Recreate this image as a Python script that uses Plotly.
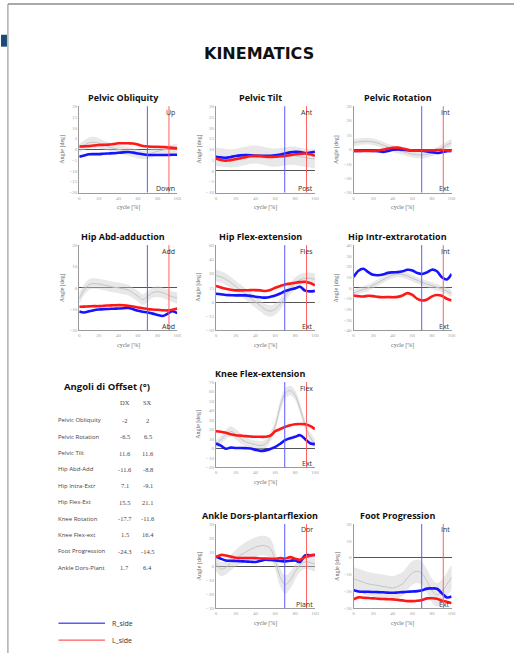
import plotly.graph_objects as go

W, H = 518, 656

# gait cycle sampling (% of stride)
CYCLE = list(range(0, 101, 5))

# event markers (% of cycle): toe-off right / left
TOE_OFF_R = 69.5
TOE_OFF_L = 91.5

# ---- Pelvic Obliquity ----
PO_R = [-3.4, -2.8, -2.3, -2.2, -2.2, -2.0, -1.9, -1.8, -1.6, -1.4, -1.25, -1.5, -1.9, -2.3, -2.6, -2.6, -2.6, -2.6, -2.6, -2.5, -2.5]
PO_L = [1.3, 1.4, 1.5, 1.8, 2.0, 2.1, 2.2, 2.5, 2.8, 2.8, 2.8, 2.7, 2.2, 1.6, 1.3, 1.2, 1.2, 1.1, 0.9, 0.7, 0.5]
PO_N = [0.5, 2.0, 3.0, 3.3, 2.8, 2.0, 1.2, 0.5, 0.0, -0.5, -1.0, -1.5, -2.2, -2.5, -2.3, -1.6, -0.8, -0.3, 0.0, 0.2, 0.4]
PO_SD = [2.0, 2.2, 2.5, 2.5, 2.3, 2.0, 2.0, 2.0, 2.0, 2.0, 2.0, 2.0, 2.0, 2.0, 2.0, 2.0, 2.0, 2.0, 2.0, 2.0, 2.0]

# ---- Pelvic Tilt ----
PT_R = [6.6, 6.3, 6.1, 6.5, 6.9, 7.2, 7.4, 7.3, 7.0, 7.0, 7.0, 7.0, 7.2, 7.6, 8.1, 8.6, 8.9, 8.8, 8.3, 8.5, 8.9]
PT_L = [5.8, 5.1, 4.8, 5.0, 5.4, 5.9, 6.4, 6.8, 7.0, 6.9, 6.6, 6.5, 6.6, 6.8, 7.0, 7.3, 7.7, 7.9, 8.1, 7.7, 7.0]
PT_N = [6.5, 6.3, 6.0, 5.8, 6.0, 6.5, 7.0, 7.5, 7.6, 7.3, 6.8, 6.3, 6.2, 6.4, 6.8, 7.1, 7.0, 6.6, 6.2, 5.8, 5.6]
PT_SD = [4.2] * 21

# ---- Pelvic Rotation ----
PR_R = [-1.1, -1.1, -1.0, -1.0, -1.1, -1.3, -1.8, -1.2, -0.3, -0.1, -0.2, -0.5, -0.7, -0.8, -1.0, -1.5, -2.0, -2.5, -2.0, -1.2, -1.1]
PR_L = [-1.1, -1.1, -1.1, -1.1, -1.1, -0.8, -0.2, 0.5, 1.1, 1.2, 0.6, -0.2, -0.7, -0.8, -0.8, -0.8, -0.7, -0.5, -0.4, -0.7, -1.1]
PR_N = [4.7, 5.2, 5.6, 5.6, 5.2, 4.3, 3.0, 1.6, 0.5, -0.5, -1.5, -2.5, -3.3, -3.8, -3.9, -3.5, -2.5, -1.0, 1.0, 3.0, 4.5]
PR_SD = [2.3] * 21

# ---- Hip Abd-adduction ----
HA_R = [-11.1, -11.6, -11.0, -10.5, -10.2, -10.0, -9.9, -9.8, -9.7, -9.6, -9.4, -10.0, -10.8, -11.2, -11.6, -12.1, -12.7, -13.2, -12.2, -11.0, -11.9]
HA_L = [-8.9, -8.8, -8.7, -8.6, -8.6, -8.4, -8.3, -8.2, -8.1, -8.2, -8.4, -8.8, -9.2, -9.6, -10.0, -10.2, -10.3, -10.5, -10.6, -10.3, -9.7]
HA_N = [-5.0, -1.0, 1.5, 2.0, 1.8, 1.3, 0.8, 0.3, 0.0, -0.5, -1.0, -2.5, -4.0, -5.5, -4.0, -2.2, -1.8, -2.3, -3.2, -4.2, -4.8]
HA_SD = [2.5] * 21

# ---- Hip Flex-extension ----
HF_R = [8.8, 8.2, 7.4, 7.2, 7.0, 7.0, 7.0, 6.5, 5.6, 5.0, 4.6, 5.5, 7.0, 9.0, 11.6, 13.2, 14.4, 16.1, 12.0, 11.2, 11.8]
HF_L = [16.8, 15.3, 14.0, 13.0, 12.3, 12.3, 12.4, 12.6, 12.6, 12.3, 11.6, 12.8, 15.0, 17.0, 18.6, 19.4, 20.3, 21.0, 21.4, 20.0, 17.5]
HF_N = [28.0, 26.5, 24.0, 20.5, 16.5, 12.5, 8.5, 4.0, 0.0, -4.0, -8.0, -9.5, -7.5, -2.0, 6.0, 14.0, 20.0, 23.5, 25.0, 25.0, 24.0]
HF_SD = [6.0] * 21

# ---- Hip Intr-extrarotation ----
HR_R = [10.0, 16.0, 17.8, 14.7, 12.2, 11.8, 12.5, 14.0, 14.5, 14.7, 15.5, 16.9, 16.3, 13.8, 13.0, 14.5, 17.0, 15.5, 10.0, 7.8, 13.0]
HR_L = [-7.2, -7.8, -8.1, -7.5, -7.8, -8.5, -8.8, -8.6, -8.8, -8.5, -7.2, -5.0, -6.6, -10.3, -11.9, -10.9, -8.0, -6.8, -7.5, -10.3, -11.9]
HR_N = [-5.0, -3.0, -1.5, 0.0, 2.5, 5.0, 7.5, 10.0, 12.0, 13.0, 12.5, 11.0, 9.0, 7.0, 5.0, 3.5, 2.0, 0.5, -1.0, -3.0, -5.5]
HR_SD = [3.0] * 21

# ---- Knee Flex-extension ----
KF_R = [5.3, 3.0, -0.3, 1.0, 0.5, 0.5, 0.3, 0.0, -1.5, -2.5, -2.0, -0.5, 1.7, 5.0, 8.8, 10.8, 12.3, 14.0, 10.0, 5.5, 4.6]
KF_L = [18.2, 17.6, 16.5, 15.0, 14.0, 13.5, 13.0, 12.6, 12.3, 12.3, 12.3, 13.5, 18.2, 20.5, 22.8, 24.5, 25.6, 25.8, 25.6, 23.9, 20.4]
KF_N = [4.0, 9.0, 14.5, 18.0, 15.0, 10.5, 7.0, 5.3, 4.0, 3.0, 5.0, 12.0, 24.0, 45.0, 58.0, 61.0, 56.0, 42.0, 25.0, 12.0, 5.0]
KF_SD = [4.5, 4.5, 5.0, 5.5, 5.5, 5.0, 4.5, 4.5, 4.5, 4.5, 4.5, 5.0, 5.5, 6.0, 5.5, 5.0, 5.0, 5.5, 5.5, 5.0, 4.5]

# ---- Ankle Dors-plantarflexion ----
AD_R = [6.9, 5.3, 4.1, 3.8, 3.7, 3.5, 3.3, 3.1, 3.0, 3.8, 4.6, 4.4, 4.1, 3.7, 3.4, 3.8, 4.1, 3.0, 7.6, 7.8, 8.0]
AD_L = [6.4, 8.0, 7.6, 6.8, 6.0, 5.8, 5.8, 5.8, 5.7, 5.5, 5.4, 5.3, 5.3, 5.7, 5.4, 6.4, 5.3, 4.6, 6.4, 7.5, 8.0]
AD_N = [2.0, -2.0, -1.0, 2.5, 5.5, 8.0, 10.0, 12.0, 13.5, 14.5, 14.5, 12.5, 4.0, -8.0, -13.0, -10.0, -4.0, 1.0, 3.0, 2.5, 1.5]
AD_SD = [5.0, 5.0, 5.0, 5.5, 6.0, 6.5, 7.0, 7.0, 7.0, 7.0, 7.0, 7.0, 6.5, 6.5, 6.5, 6.0, 5.5, 5.0, 5.0, 5.0, 5.0]

# ---- Foot Progression ----
FP_R = [-19.2, -20.0, -20.2, -20.2, -20.3, -20.4, -20.5, -20.7, -20.8, -20.6, -20.4, -20.2, -20.0, -19.8, -19.3, -18.3, -18.2, -18.4, -21.0, -23.5, -23.0]
FP_L = [-24.7, -23.5, -23.7, -23.9, -24.1, -24.3, -24.5, -24.6, -24.7, -25.0, -25.3, -25.7, -25.7, -25.5, -25.0, -24.1, -24.0, -24.3, -25.5, -26.1, -27.0]
FP_N = [-12.5, -13.5, -14.5, -15.5, -16.0, -16.5, -17.0, -17.5, -18.0, -17.0, -15.5, -12.0, -9.0, -8.0, -9.5, -14.0, -19.5, -22.0, -20.0, -16.0, -11.5]
FP_SD = [7.0] * 21

# ---- offset table ----
OFFSET_LABELS = ["Pelvic Obliquity", "Pelvic Rotation", "Pelvic Tilt", "Hip Abd-Add", "Hip Intra-Extr",
                 "Hip Flex-Ext", "Knee Rotation", "Knee Flex-ext", "Foot Progression", "Ankle Dors-Plant"]
OFFSET_DX = ["-2", "-6.5", "11.6", "-11.6", "7.1", "15.5", "-17.7", "1.5", "-24.3", "1.7"]
OFFSET_SX = ["2", "6.5", "11.6", "-8.8", "-9.1", "21.1", "-11.6", "16.4", "-14.5", "6.4"]

R_COLOR = "#1414ff"
L_COLOR = "#ff1818"

# panel layout in pixels: (left, right), (top, bottom)
COLS = [(79, 178), (217, 317), (356, 455)]
ROWS = [(105, 192), (245, 331), (383, 469), (526, 611)]

PANELS = [
    dict(title="Pelvic Obliquity", col=0, row=0, rng=(-20, 20), dt=5, top="Up", bot="Down",
         r=PO_R, l=PO_L, n=PO_N, sd=PO_SD),
    dict(title="Pelvic Tilt", col=1, row=0, rng=(-10, 30), dt=5, top="Ant", bot="Post",
         r=PT_R, l=PT_L, n=PT_N, sd=PT_SD),
    dict(title="Pelvic Rotation", col=2, row=0, rng=(-30, 30), dt=10, top="Int", bot="Ext",
         r=PR_R, l=PR_L, n=PR_N, sd=PR_SD),
    dict(title="Hip Abd-adduction", col=0, row=1, rng=(-20, 20), dt=10, top="Add", bot="Abd",
         r=HA_R, l=HA_L, n=HA_N, sd=HA_SD),
    dict(title="Hip Flex-extension", col=1, row=1, rng=(-30, 60), dt=15, top="Fles", bot="Ext",
         r=HF_R, l=HF_L, n=HF_N, sd=HF_SD),
    dict(title="Hip Intr-extrarotation", col=2, row=1, rng=(-40, 40), dt=10, top="Int", bot="Ext",
         r=HR_R, l=HR_L, n=HR_N, sd=HR_SD),
    dict(title="Knee Flex-extension", col=1, row=2, rng=(-20, 70), dt=10, top="Flex", bot="Ext",
         r=KF_R, l=KF_L, n=KF_N, sd=KF_SD),
    dict(title="Ankle Dors-plantarflexion", col=1, row=3, rng=(-30, 30), dt=10, top="Dor", bot="Plant",
         r=AD_R, l=AD_L, n=AD_N, sd=AD_SD),
    dict(title="Foot Progression", col=2, row=3, rng=(-30, 20), dt=10, top="Int", bot="Ext",
         r=FP_R, l=FP_L, n=FP_N, sd=FP_SD),
]


def px(x):
    return x / W


def py(y):
    return 1 - y / H


fig = go.Figure()
layout = dict(width=W, height=H, margin=dict(l=0, r=0, t=0, b=0),
              paper_bgcolor="white", plot_bgcolor="white", showlegend=False)
annotations = []
shapes = []

tick_font = dict(family="Liberation Serif", size=5, color="#a0a0a0")
small_serif = dict(family="Liberation Serif", size=6, color="#666666")

for i, p in enumerate(PANELS, start=1):
    sfx = "" if i == 1 else str(i)
    xa, ya = f"x{sfx}", f"y{sfx}"
    (x0, x1), (y0, y1) = COLS[p["col"]], ROWS[p["row"]]
    layout[f"xaxis{sfx}"] = dict(
        domain=[px(x0), px(x1)], range=[0, 100], anchor=ya, tickvals=[0, 20, 40, 60, 80, 100],
        showline=True, linecolor="#9a9a9a", linewidth=1, showgrid=False, zeroline=False,
        ticks="", tickfont=tick_font, fixedrange=True)
    layout[f"yaxis{sfx}"] = dict(
        domain=[py(y1), py(y0)], range=list(p["rng"]), anchor=xa, dtick=p["dt"],
        showline=True, linecolor="#9a9a9a", linewidth=1, showgrid=False,
        zeroline=True, zerolinecolor="#555555", zerolinewidth=1,
        ticks="", tickfont=tick_font, fixedrange=True)

    upper = [m + s for m, s in zip(p["n"], p["sd"])]
    lower = [m - s for m, s in zip(p["n"], p["sd"])]
    fig.add_trace(go.Scatter(x=CYCLE + CYCLE[::-1], y=upper + lower[::-1], fill="toself",
                             fillcolor="rgba(205,205,205,0.45)", line=dict(width=0, shape="spline"),
                             mode="lines", hoverinfo="skip", xaxis=xa, yaxis=ya))
    fig.add_trace(go.Scatter(x=CYCLE, y=p["n"], mode="lines",
                             line=dict(color="#c4c4c4", width=1, shape="spline"), xaxis=xa, yaxis=ya))
    fig.add_trace(go.Scatter(x=CYCLE, y=p["r"], mode="lines", name="R_side",
                             line=dict(color=R_COLOR, width=2.6, shape="spline"), xaxis=xa, yaxis=ya))
    fig.add_trace(go.Scatter(x=CYCLE, y=p["l"], mode="lines", name="L_side",
                             line=dict(color=L_COLOR, width=2.6, shape="spline"), xaxis=xa, yaxis=ya))

    # toe-off markers
    for xv, c in ((TOE_OFF_R, "#5a5aff"), (TOE_OFF_L, "#ff6060")):
        shapes.append(dict(type="line", xref=xa, yref=f"{ya} domain", x0=xv, x1=xv, y0=0, y1=1,
                           line=dict(color=c, width=1), layer="above"))

    cx = (x0 + x1) / 2 - 5
    annotations += [
        dict(text=f"<b>{p['title']}</b>", x=px(cx), y=py(y0 - 8.5), xref="paper", yref="paper",
             showarrow=False, font=dict(family="Open Sans", size=9, color="#111111"),
             xanchor="center", yanchor="middle"),
        dict(text="Angle [deg]", x=px(x0 - 17), y=py((y0 + y1) / 2), xref="paper", yref="paper",
             showarrow=False, textangle=-90, font=small_serif, xanchor="center", yanchor="middle"),
        dict(text="cycle [%]", x=px((x0 + x1) / 2), y=py(y1 + 15), xref="paper", yref="paper",
             showarrow=False, font=small_serif, xanchor="center", yanchor="middle"),
        dict(text=p["top"], x=px(x1), y=py(y0 + 6), xref="paper", yref="paper", showarrow=False,
             font=dict(family="Open Sans", size=7, color="#333333"), xanchor="right", yanchor="middle"),
        dict(text=p["bot"], x=px(x1), y=py(y1 - 4), xref="paper", yref="paper", showarrow=False,
             font=dict(family="Open Sans", size=7, color="#333333"), xanchor="right", yanchor="middle"),
    ]

# page heading
annotations.append(dict(text="<b>KINEMATICS</b>", x=px(261), y=py(52), xref="paper", yref="paper",
                        showarrow=False, font=dict(family="DejaVu Sans", size=16, color="#111111"),
                        xanchor="center", yanchor="middle"))

# offset angle table
annotations.append(dict(text="<b>Angoli di Offset (°)</b>", x=px(107), y=py(387), xref="paper",
                        yref="paper", showarrow=False,
                        font=dict(family="Open Sans", size=9.5, color="#111111"),
                        xanchor="center", yanchor="middle"))
table_num = dict(family="Liberation Serif", size=6.5, color="#444444")
annotations.append(dict(text="DX", x=px(125), y=py(404), xref="paper", yref="paper", showarrow=False,
                        font=table_num, xanchor="center", yanchor="middle"))
annotations.append(dict(text="SX", x=px(148), y=py(404), xref="paper", yref="paper", showarrow=False,
                        font=table_num, xanchor="center", yanchor="middle"))
for k, (lab, dx, sx) in enumerate(zip(OFFSET_LABELS, OFFSET_DX, OFFSET_SX)):
    yy = 421.5 + k * 16.5
    annotations.append(dict(text=lab, x=px(56), y=py(yy), xref="paper", yref="paper", showarrow=False,
                            font=dict(family="Open Sans", size=6, color="#444444"),
                            xanchor="left", yanchor="middle"))
    annotations.append(dict(text=dx, x=px(125), y=py(yy), xref="paper", yref="paper", showarrow=False,
                            font=table_num, xanchor="center", yanchor="middle"))
    annotations.append(dict(text=sx, x=px(148), y=py(yy), xref="paper", yref="paper", showarrow=False,
                            font=table_num, xanchor="center", yanchor="middle"))

# side key
for yy, lab, c in ((626, "R_side", "#5a5aff"), (643, "L_side", "#ff5a5a")):
    shapes.append(dict(type="line", xref="paper", yref="paper", x0=px(58), x1=px(105),
                       y0=py(yy), y1=py(yy), line=dict(color=c, width=1.4)))
    annotations.append(dict(text=lab, x=px(110), y=py(yy), xref="paper", yref="paper", showarrow=False,
                            font=dict(family="Open Sans", size=7, color="#333333"),
                            xanchor="left", yanchor="middle"))

# page frame
shapes.append(dict(type="line", xref="paper", yref="paper", x0=px(7), x1=1, y0=py(2), y1=py(2),
                   line=dict(color="#555555", width=1)))
shapes.append(dict(type="line", xref="paper", yref="paper", x0=px(7), x1=px(7), y0=py(2), y1=0,
                   line=dict(color="#888888", width=1)))
shapes.append(dict(type="rect", xref="paper", yref="paper", x0=0, x1=px(6), y0=py(45), y1=py(33),
                   fillcolor="#1a4a78", line=dict(width=0)))

layout["annotations"] = annotations
layout["shapes"] = shapes
fig.update_layout(**layout)
fig.write_html("out.html")
